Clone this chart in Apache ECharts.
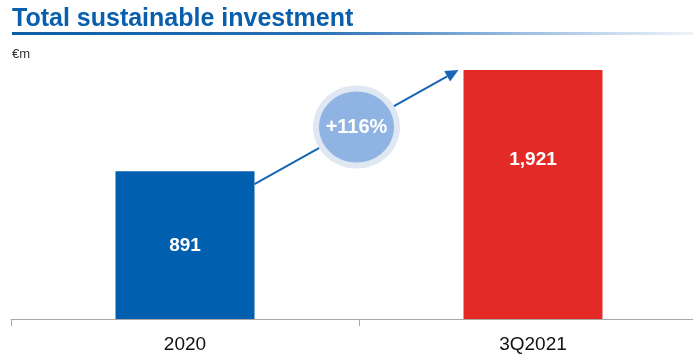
<!DOCTYPE html>
<html>
<head>
<meta charset="utf-8">
<script src="https://cdn.jsdelivr.net/npm/echarts@6/dist/echarts.min.js"></script>
<style>
html,body{margin:0;padding:0;background:#fff;overflow:hidden;width:693px;height:354px;}
#c{width:707px;height:354px;}
</style>
</head>
<body>
<div id="c"></div>
<script>
// ---- data ----
const categories = ['2020', '3Q2021'];
const values = [891, 1921];
const barColors = ['#005fae', '#e42a27'];
const changeLabel = '+116%';
const titleText = 'Total sustainable investment';
const unitText = '€m';

const FONT = 'Liberation Sans, Arial, sans-serif';
const chart = echarts.init(document.getElementById('c'), null, {renderer: 'canvas'});

const labelDistances = [65, 80];

const option = {
  animation: false,
  backgroundColor: '#fff',
  title: {
    text: titleText,
    left: 12, top: 7, padding: 0,
    textStyle: {fontFamily: FONT, fontSize: 25, fontWeight: 'bold', color: '#0a5fad'}
  },
  grid: {left: 11, right: 0, top: 70, bottom: 33.5, containLabel: false},
  xAxis: {
    type: 'category',
    data: categories,
    axisLine: {lineStyle: {color: '#a8a8a8', width: 1}},
    axisTick: {show: true, length: 7, lineStyle: {color: '#a8a8a8'}},
    axisLabel: {fontFamily: FONT, fontSize: 19, color: '#111', margin: 16}
  },
  yAxis: {
    type: 'log',
    logBase: 10,
    min: 290,
    max: 1921,
    startValue: 290,
    show: false,
    splitLine: {show: false}
  },
  series: [{
    type: 'bar',
    clip: true,
    barWidth: 139,
    data: values.map((v, i) => ({
      value: v,
      itemStyle: {color: barColors[i]},
      label: {distance: labelDistances[i]}
    })),
    label: {
      show: true,
      position: 'insideTop',
      color: '#fff',
      fontFamily: FONT,
      fontSize: 19,
      fontWeight: 'bold',
      formatter: p => p.value.toLocaleString('en-US')
    }
  }]
};
chart.setOption(option);

// annotations computed from the chart's own scales
const p0 = chart.convertToPixel({gridIndex: 0}, [0, values[0]]);
const p1 = chart.convertToPixel({gridIndex: 0}, [1, values[1]]);
const bw = 139;
const start = [p0[0] + bw / 2, p0[1] + 13];
const end = [p1[0] - bw / 2 - 5, p1[1]];
const dx = end[0] - start[0], dy = end[1] - start[1];
const len = Math.sqrt(dx * dx + dy * dy);
const ux = dx / len, uy = dy / len;
const nx = -uy, ny = ux;
const headLen = 13, headHalf = 6;
const base = [end[0] - headLen * ux, end[1] - headLen * uy];
const mid = [(start[0] + end[0]) / 2, (start[1] + end[1]) / 2];

chart.setOption({
  graphic: [
    {
      type: 'rect', left: 12, top: 32, z: 10,
      shape: {width: 681, height: 3},
      style: {fill: new echarts.graphic.LinearGradient(0, 0, 1, 0, [
        {offset: 0, color: '#0b5ea8'},
        {offset: 0.45, color: '#2a70b6'},
        {offset: 0.75, color: '#9dbfe2'},
        {offset: 1, color: '#eef4fa'}
      ])}
    },
    {
      type: 'text', left: 12, top: 48, z: 10,
      style: {text: unitText, fontFamily: FONT, fontSize: 13, fill: '#333'}
    },
    {
      type: 'line', z: 10,
      shape: {x1: start[0], y1: start[1], x2: base[0], y2: base[1]},
      style: {stroke: '#1766b3', lineWidth: 2}
    },
    {
      type: 'polygon', z: 10,
      shape: {points: [
        [end[0], end[1]],
        [base[0] + headHalf * nx, base[1] + headHalf * ny],
        [base[0] - headHalf * nx, base[1] - headHalf * ny]
      ]},
      style: {fill: '#1766b3'}
    },
    {
      type: 'ellipse', z: 11,
      shape: {cx: mid[0], cy: mid[1], rx: 43.5, ry: 41.5},
      style: {fill: '#dfe7f3'}
    },
    {
      type: 'ellipse', z: 12,
      shape: {cx: mid[0], cy: mid[1], rx: 37.5, ry: 35.5},
      style: {fill: '#8fb4e3'}
    },
    {
      type: 'text', z: 13,
      x: mid[0], y: mid[1],
      style: {text: changeLabel, fontFamily: FONT, fontSize: 20, fontWeight: 'bold',
        fill: '#fff', align: 'center', verticalAlign: 'middle'}
    }
  ]
});
</script>
</body>
</html>
